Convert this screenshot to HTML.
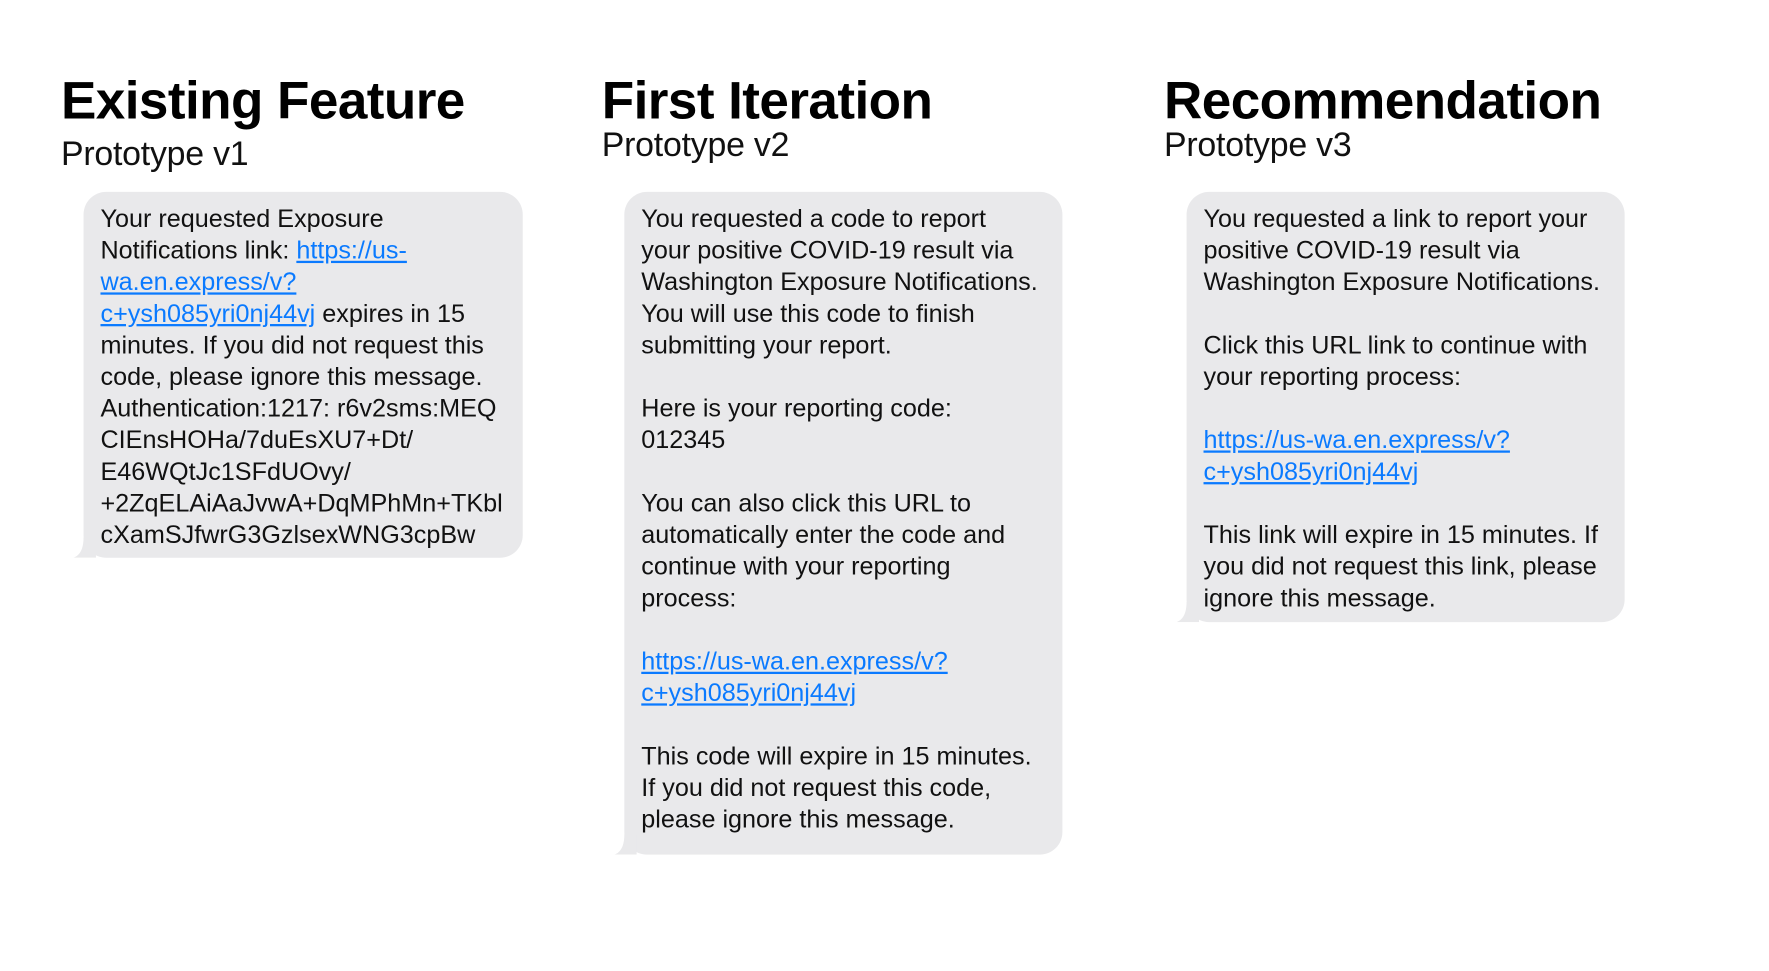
<!DOCTYPE html>
<html><head><meta charset="utf-8"><style>
html,body{margin:0;padding:0;background:#fff;width:1769px;height:971px;overflow:hidden}
#c{position:absolute;left:0;top:0;width:1566px;height:860px;transform:scale(1.129);transform-origin:0 0;font-family:"Liberation Sans",sans-serif}
h1{position:absolute;margin:0;font-size:47px;font-weight:bold;letter-spacing:-0.5px;color:#000;line-height:1;top:65px}
h2{position:absolute;margin:0;font-size:30px;font-weight:normal;color:#111;line-height:1;letter-spacing:-0.2px}
.b{position:absolute;background:#e9e9eb;border-radius:20px;top:170px;box-sizing:border-box;padding:10px 0 0 15px;font-size:22.3px;line-height:28px;color:#111;white-space:nowrap}
.b a{color:#0a7aff;text-decoration:underline}
.t{position:absolute;bottom:0;left:-9px;width:20px;height:18px}
</style></head><body><div id="c">
<h1 style="left:54px">Existing Feature</h1>
<h2 style="left:54px;top:122px">Prototype v1</h2>
<h1 style="left:533px">First Iteration</h1>
<h2 style="left:533px;top:114px">Prototype v2</h2>
<h1 style="left:1031px">Recommendation</h1>
<h2 style="left:1031px;top:114px">Prototype v3</h2>

<div class="b" style="left:74px;width:389px;height:324px">
<svg class="t" viewBox="0 0 20 18"><path d="M20 0 L20 18 L0 18 C6 16 9 10 9 0 Z" fill="#e9e9eb"/></svg>
Your requested Exposure<br>Notifications link: <a>https://us-</a><br><a>wa.en.express/v?</a><br><a>c+ysh085yri0nj44vj</a> expires in 15<br>minutes. If you did not request this<br>code, please ignore this message.<br>Authentication:1217: r6v2sms:MEQ<br>CIEnsHOHa/7duEsXU7+Dt/<br>E46WQtJc1SFdUOvy/<br>+2ZqELAiAaJvwA+DqMPhMn+TKbl<br>cXamSJfwrG3GzlsexWNG3cpBw
</div>

<div class="b" style="left:553px;width:388px;height:587px">
<svg class="t" viewBox="0 0 20 18"><path d="M20 0 L20 18 L0 18 C6 16 9 10 9 0 Z" fill="#e9e9eb"/></svg>
You requested a code to report<br>your positive COVID-19 result via<br>Washington Exposure Notifications.<br>You will use this code to finish<br>submitting your report.<br><br>Here is your reporting code:<br>012345<br><br>You can also click this URL to<br>automatically enter the code and<br>continue with your reporting<br>process:<br><br><a>https://us-wa.en.express/v?</a><br><a>c+ysh085yri0nj44vj</a><br><br>This code will expire in 15 minutes.<br>If you did not request this code,<br>please ignore this message.
</div>

<div class="b" style="left:1051px;width:388px;height:381px">
<svg class="t" viewBox="0 0 20 18"><path d="M20 0 L20 18 L0 18 C6 16 9 10 9 0 Z" fill="#e9e9eb"/></svg>
You requested a link to report your<br>positive COVID-19 result via<br>Washington Exposure Notifications.<br><br>Click this URL link to continue with<br>your reporting process:<br><br><a>https://us-wa.en.express/v?</a><br><a>c+ysh085yri0nj44vj</a><br><br>This link will expire in 15 minutes. If<br>you did not request this link, please<br>ignore this message.
</div>
</div></body></html>
